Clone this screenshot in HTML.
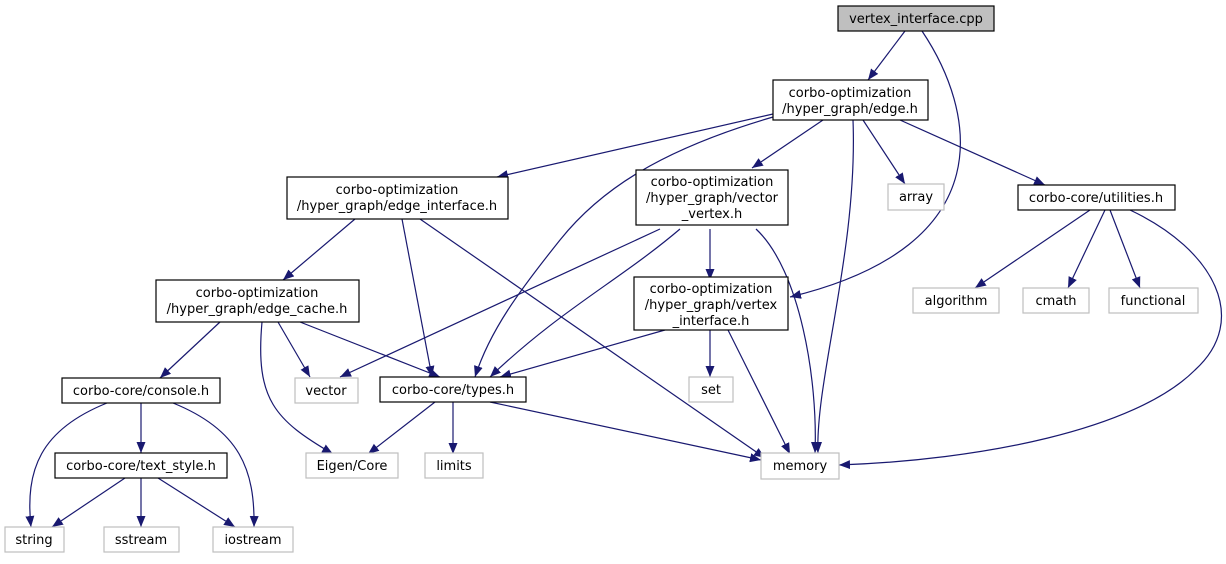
<!DOCTYPE html>
<html><head><meta charset="utf-8"><style>
html,body{margin:0;padding:0;background:#fff;}
svg text{font-family:"DejaVu Sans","Liberation Sans",sans-serif;font-size:13px;fill:#000;}
</style></head><body>
<svg width="1226" height="559" viewBox="0 0 1226 559" xmlns="http://www.w3.org/2000/svg">
<defs><marker id="a" markerUnits="userSpaceOnUse" markerWidth="12" markerHeight="10" refX="11" refY="5" orient="auto"><path d="M0,0.5 L11,5 L0,9.5 z" fill="#191970"/></marker></defs>
<g fill="none" stroke="#191970" stroke-width="1.2" marker-end="url(#a)">
<path d="M905,31 L868,80"/>
<path d="M922,31 C975,110 1005,245 790,297"/>
<path d="M823,120 L752,168"/>
<path d="M773,114 L497,177"/>
<path d="M773,117 C660,150 600,190 560,240 C520,290 490,330 475,377"/>
<path d="M853,120 C858,250 815,380 818,453"/>
<path d="M863,120 L905,184"/>
<path d="M900,120 L1045,185"/>
<path d="M355,219 L283,280"/>
<path d="M402,219 L432,377"/>
<path d="M420,219 L765,458"/>
<path d="M710,229 L710,280"/>
<path d="M660,229 L340,377"/>
<path d="M680,229 C620,280 560,310 490,377"/>
<path d="M756,229 C800,270 818,380 815,453"/>
<path d="M1090,210 L975,288"/>
<path d="M1105,210 L1068,288"/>
<path d="M1110,210 L1140,288"/>
<path d="M1130,210 C1215,250 1250,320 1195,370 C1135,430 980,460 839,465"/>
<path d="M220,322 L160,378"/>
<path d="M262,322 C255,400 275,420 333,454"/>
<path d="M278,322 L310,377"/>
<path d="M300,322 L440,377"/>
<path d="M710,330 L710,377"/>
<path d="M728,330 L790,454"/>
<path d="M665,330 L500,377"/>
<path d="M435,402 L368,454"/>
<path d="M453,402 L453,454"/>
<path d="M490,402 L761,460"/>
<path d="M141,403 L141,453"/>
<path d="M107,403 C40,430 25,470 31,527"/>
<path d="M173,403 C240,430 255,470 254,527"/>
<path d="M125,478 L52,527"/>
<path d="M141,478 L141,527"/>
<path d="M158,478 L235,527"/>
</g>
<g stroke-width="1.2">
<rect x="838" y="6" width="156" height="25" fill="#bfbfbf" stroke="#000"/>
<rect x="773" y="80" width="155" height="40" fill="#fff" stroke="#000"/>
<rect x="287" y="177" width="221" height="42" fill="#fff" stroke="#000"/>
<rect x="636" y="170" width="152" height="55" fill="#fff" stroke="#000"/>
<rect x="888" y="184" width="56" height="26" fill="#fff" stroke="#bfbfbf"/>
<rect x="1018" y="185" width="157" height="25" fill="#fff" stroke="#000"/>
<rect x="156" y="280" width="203" height="42" fill="#fff" stroke="#000"/>
<rect x="634" y="277" width="154" height="53" fill="#fff" stroke="#000"/>
<rect x="913" y="288" width="86" height="25" fill="#fff" stroke="#bfbfbf"/>
<rect x="1023" y="288" width="66" height="25" fill="#fff" stroke="#bfbfbf"/>
<rect x="1109" y="288" width="89" height="25" fill="#fff" stroke="#bfbfbf"/>
<rect x="62" y="378" width="158" height="25" fill="#fff" stroke="#000"/>
<rect x="295" y="378" width="63" height="25" fill="#fff" stroke="#bfbfbf"/>
<rect x="380" y="377" width="146" height="25" fill="#fff" stroke="#000"/>
<rect x="689" y="377" width="44" height="25" fill="#fff" stroke="#bfbfbf"/>
<rect x="55" y="453" width="172" height="25" fill="#fff" stroke="#000"/>
<rect x="306" y="453" width="92" height="25" fill="#fff" stroke="#bfbfbf"/>
<rect x="425" y="453" width="58" height="25" fill="#fff" stroke="#bfbfbf"/>
<rect x="761" y="453" width="78" height="26" fill="#fff" stroke="#bfbfbf"/>
<rect x="5" y="527" width="59" height="25" fill="#fff" stroke="#bfbfbf"/>
<rect x="104" y="527" width="75" height="25" fill="#fff" stroke="#bfbfbf"/>
<rect x="213" y="527" width="80" height="25" fill="#fff" stroke="#bfbfbf"/>
</g>
<g text-anchor="middle">
<text x="916" y="23">vertex_interface.cpp</text>
<text x="850" y="97">corbo-optimization</text>
<text x="850" y="113">/hyper_graph/edge.h</text>
<text x="397" y="194">corbo-optimization</text>
<text x="397" y="210">/hyper_graph/edge_interface.h</text>
<text x="712" y="186">corbo-optimization</text>
<text x="712" y="202">/hyper_graph/vector</text>
<text x="712" y="218">_vertex.h</text>
<text x="916" y="201">array</text>
<text x="1096" y="202">corbo-core/utilities.h</text>
<text x="257" y="297">corbo-optimization</text>
<text x="257" y="313">/hyper_graph/edge_cache.h</text>
<text x="711" y="293">corbo-optimization</text>
<text x="711" y="309">/hyper_graph/vertex</text>
<text x="711" y="325">_interface.h</text>
<text x="956" y="305">algorithm</text>
<text x="1056" y="305">cmath</text>
<text x="1153" y="305">functional</text>
<text x="141" y="395">corbo-core/console.h</text>
<text x="326" y="395">vector</text>
<text x="453" y="394">corbo-core/types.h</text>
<text x="711" y="394">set</text>
<text x="141" y="470">corbo-core/text_style.h</text>
<text x="352" y="470">Eigen/Core</text>
<text x="454" y="470">limits</text>
<text x="800" y="470">memory</text>
<text x="34" y="544">string</text>
<text x="141" y="544">sstream</text>
<text x="253" y="544">iostream</text>
</g>
</svg>
</body></html>
